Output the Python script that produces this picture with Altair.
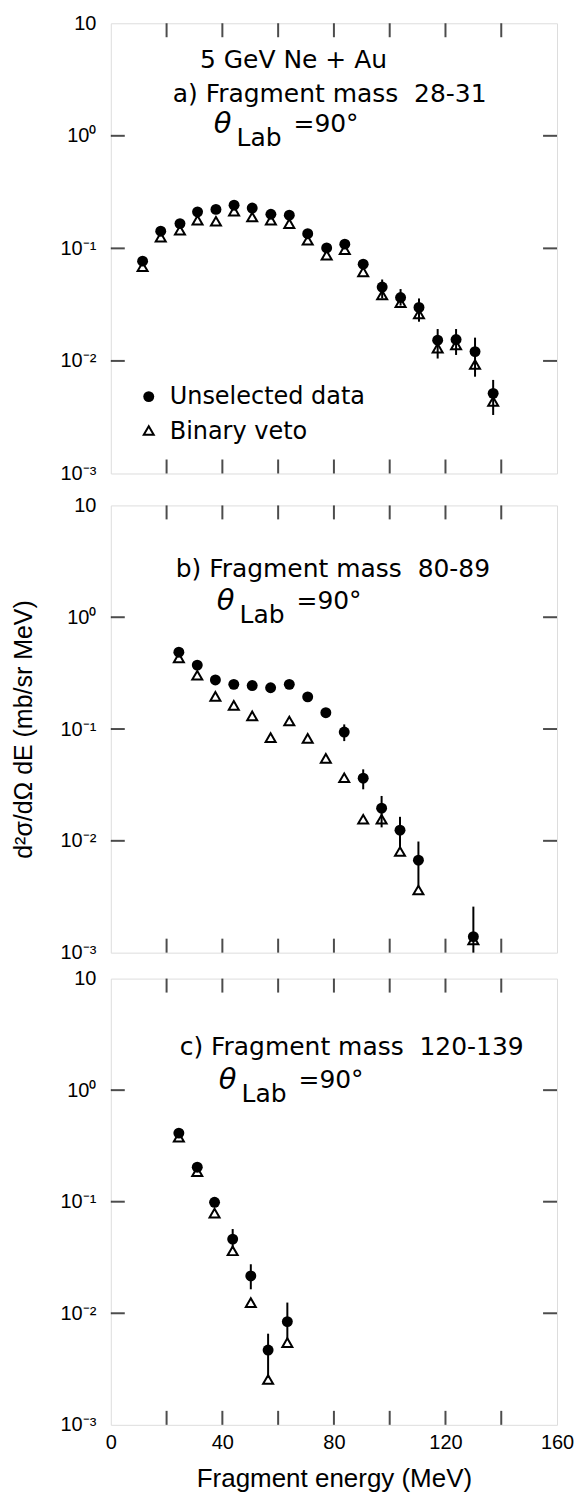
import altair as alt
import pandas as pd

FONT = "DejaVu Sans"

# ---------------- data ----------------
# panel a) Fragment mass 28-31
A_E = [11.4, 17.9, 24.8, 31.1, 37.7, 44.2, 50.7, 57.4, 64.0, 70.6,
       77.4, 83.9, 90.5, 97.3, 103.9, 110.5, 117.2, 123.8, 130.6, 137.1]
A_UNSEL = [0.077, 0.142, 0.166, 0.211, 0.222, 0.242, 0.228, 0.201, 0.197, 0.135,
           0.101, 0.109, 0.0724, 0.0453, 0.0366, 0.0299, 0.0153, 0.0155, 0.0121, 0.00515]
A_VETO = [0.0686, 0.126, 0.145, 0.178, 0.174, 0.214, 0.190, 0.178, 0.166, 0.118,
          0.087, 0.0975, 0.0619, 0.0385, 0.0330, 0.0261, 0.0130, 0.0139, 0.0093, 0.00436]
A_ERR_E = [97.3, 103.9, 110.5, 117.2, 123.8, 130.6, 137.1]
A_ERR_HI = [0.0529, 0.0435, 0.0359, 0.0192, 0.0192, 0.0161, 0.00678]
A_ERR_LO = [0.036, 0.031, 0.0223, 0.0105, 0.0113, 0.00724, 0.00331]

# panel b) Fragment mass 80-89
B_E = [24.4, 31.0, 37.5, 44.1, 50.7, 57.3, 64.0, 70.6, 77.1, 83.7,
       90.5, 97.1, 103.7, 110.3, 130.0]
B_UNSEL = [0.487, 0.373, 0.275, 0.251, 0.245, 0.234, 0.251, 0.194, 0.140, 0.094,
           0.0363, 0.0196, 0.01245, 0.00671, 0.00139]
B_VETO = [0.433, 0.303, 0.196, 0.163, 0.131, 0.0837, 0.118, 0.0826, 0.0547, 0.0367,
          0.0156, 0.0156, 0.00803, 0.00363, 0.00130]
B_ERR_E = [83.7, 90.5, 97.1, 103.7, 110.3, 130.0]
B_ERR_HI = [0.110, 0.0436, 0.0252, 0.0164, 0.00986, 0.00258]
B_ERR_LO = [0.078, 0.0289, 0.0132, 0.00843, 0.00396, 0.001]

# panel c) Fragment mass 120-139
C_E = [24.4, 31.0, 37.2, 43.7, 50.2, 56.4, 63.3]
C_UNSEL = [0.412, 0.204, 0.0988, 0.0462, 0.0216, 0.00468, 0.00842]
C_VETO = [0.379, 0.186, 0.079, 0.0363, 0.01247, 0.00255, 0.00546]
C_ERR_E = [43.7, 50.2, 56.4, 63.3]
C_ERR_HI = [0.0569, 0.0275, 0.00656, 0.01247]
C_ERR_LO = [0.038, 0.0164, 0.00264, 0.00583]

X_TICKS = [20, 40, 60, 80, 100, 120, 140]
X_LABELS = [0, 40, 80, 120, 160]
Y_TICKS = [1, 0.1, 0.01]
Y_LABELS = [10, 1, 0.1, 0.01, 0.001]

NB = "\u00a0"
TITLE_A = "a) Fragment mass" + NB + NB + "28-31"
TITLE_B = "b) Fragment mass" + NB + NB + "80-89"
TITLE_C = "c) Fragment mass" + NB + NB + "120-139"
REACTION = "5 GeV Ne + Au"
LEGEND_LABELS = ["Unselected data", "Binary veto"]
X_TITLE = "Fragment energy (MeV)"
Y_TITLE = "d²σ/dΩ dE (mb/sr MeV)"

W = 447
ONE = pd.DataFrame({"k": [0]})

XS = alt.Scale(domain=[0, 160], nice=False, zero=False)
YS = alt.Scale(type="log", domain=[0.001, 10], nice=False)

LABEL_EXPR = ("datum.value > 5 ? '10' : datum.value > 0.5 ? '10⁰' : "
              "datum.value > 0.05 ? '10⁻¹' : datum.value > 0.005 ? '10⁻²' : '10⁻³'")


def y_axis(with_title):
    kw = dict(values=Y_LABELS, labelExpr=LABEL_EXPR, ticks=False, domain=False,
              grid=False, labelFontSize=20, labelPadding=15, labelFlush=False,
              labelOverlap=False, labelBound=False)
    if with_title:
        kw.update(title=Y_TITLE, titleFontSize=25, titlePadding=24,
                  titleFontWeight="normal")
    else:
        kw.update(title=None)
    return alt.Axis(**kw)


def x_axis():
    return alt.Axis(values=X_LABELS, ticks=False, domain=False, grid=False,
                    labelFontSize=20, labelPadding=8, labelFlush=False,
                    labelOverlap=False, title=X_TITLE, titleFontSize=26,
                    titlePadding=13, titleFontWeight="normal")


def text(txt, x, y, size=25, align="left", italic=False):
    kw = dict(text=txt, fontSize=size, align=align, baseline="middle",
              font=FONT, color="black")
    if italic:
        kw["fontStyle"] = "italic"
    return alt.Chart(ONE).mark_text(**kw).encode(x=alt.value(x), y=alt.value(y))


def theta_block(xt, y):
    # θ_Lab = 90°
    return [text("θ", xt, y, size=29, align="center", italic=True),
            text("Lab", xt + 14, y + 14, size=25),
            text("=90°", xt + 71, y, size=25)]


def panel(E, unsel, veto, eE, elo, ehi, h, xax, yax, extras):
    pts = pd.DataFrame({"E": E, "unsel": unsel, "veto": veto})
    err = pd.DataFrame({"E": eE, "lo": elo, "hi": ehi})

    def X(f):
        return alt.X(f, scale=XS, axis=xax)

    def Y(f):
        return alt.Y(f, scale=YS, axis=yax)

    rules = alt.Chart(err).mark_rule(color="black", strokeWidth=2).encode(
        x=X("E:Q"), y=Y("lo:Q"), y2="hi:Q")
    tri = alt.Chart(pts).mark_point(shape="triangle-up", filled=False, color="black",
                                    strokeWidth=2, size=100, opacity=1).encode(
        x=X("E:Q"), y=Y("veto:Q"))
    circ = alt.Chart(pts).mark_circle(color="black", size=120, opacity=1).encode(
        x=X("E:Q"), y=Y("unsel:Q"))
    xt = pd.DataFrame({"t": X_TICKS})
    yt = pd.DataFrame({"t": Y_TICKS})
    tk = dict(color="black", thickness=2, size=14)
    t_top = alt.Chart(xt).mark_tick(orient="vertical", **tk).encode(
        x=X("t:Q"), y=alt.value(7))
    t_bot = alt.Chart(xt).mark_tick(orient="vertical", **tk).encode(
        x=X("t:Q"), y=alt.value(h - 7))
    t_l = alt.Chart(yt).mark_tick(orient="horizontal", **tk).encode(
        y=Y("t:Q"), x=alt.value(7))
    t_r = alt.Chart(yt).mark_tick(orient="horizontal", **tk).encode(
        y=Y("t:Q"), x=alt.value(W - 7))
    return alt.layer(rules, tri, circ, t_top, t_bot, t_l, t_r, *extras).properties(
        width=W, height=h)


legend = [
    alt.Chart(ONE).mark_circle(color="black", size=120, opacity=1).encode(
        x=alt.value(38), y=alt.value(374)),
    alt.Chart(ONE).mark_point(shape="triangle-up", filled=False, color="black",
                              strokeWidth=2, size=100, opacity=1).encode(
        x=alt.value(38), y=alt.value(408)),
    text(LEGEND_LABELS[0], 59, 374, size=24),
    text(LEGEND_LABELS[1], 59, 409, size=24),
]

extras_a = [text(REACTION, 183, 37, align="center"), text(TITLE_A, 62, 71)] + \
    theta_block(112, 101) + legend
extras_b = [text(TITLE_B, 65, 64)] + theta_block(115, 96)
extras_c = [text(TITLE_C, 69, 69)] + theta_block(117, 102)

pa = panel(A_E, A_UNSEL, A_VETO, A_ERR_E, A_ERR_LO, A_ERR_HI, 451,
           None, y_axis(False), extras_a)
pb = panel(B_E, B_UNSEL, B_VETO, B_ERR_E, B_ERR_LO, B_ERR_HI, 448,
           None, y_axis(True), extras_b)
pc = panel(C_E, C_UNSEL, C_VETO, C_ERR_E, C_ERR_LO, C_ERR_HI, 447,
           x_axis(), y_axis(False), extras_c)

chart = alt.vconcat(
    pa,
    alt.vconcat(pb, pc, spacing=26, bounds="flush"),
    spacing=32, bounds="flush",
).properties(
    padding={"left": 10, "top": 11, "right": 0, "bottom": 0}
).configure_view(
    stroke="black", strokeWidth=2
).configure_axis(
    labelFont=FONT, titleFont=FONT, labelColor="black", titleColor="black"
).configure(background="white")

chart.save("out.html", embed_options={"renderer": "svg", "actions": False})
